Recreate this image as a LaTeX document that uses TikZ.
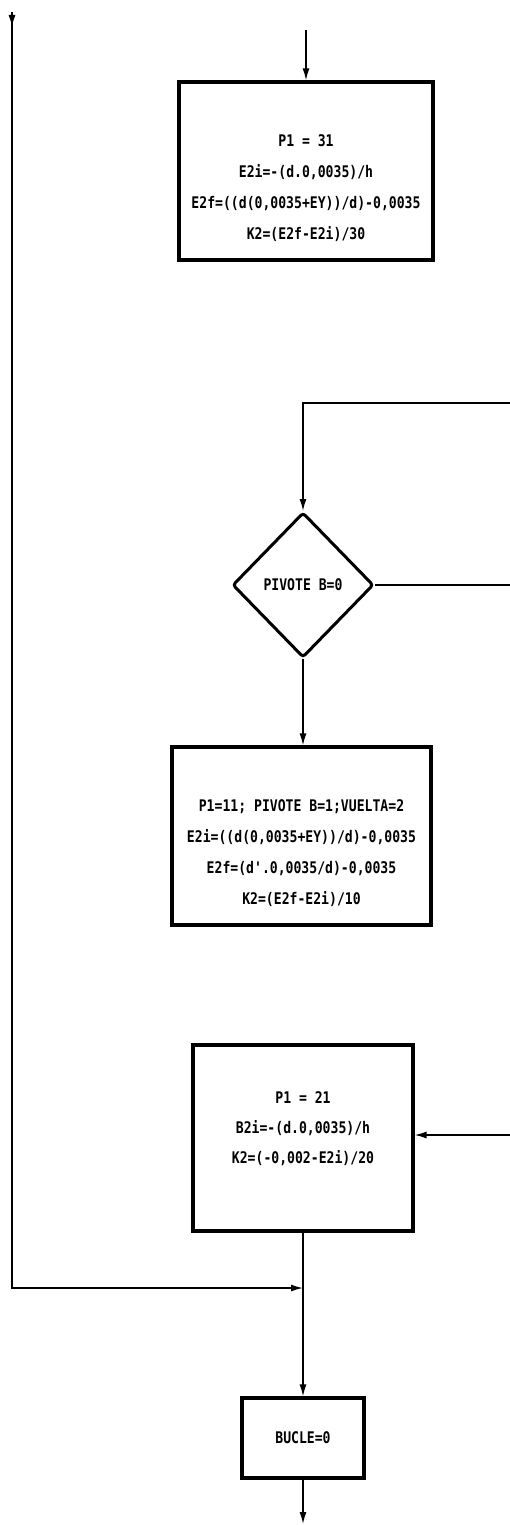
\documentclass[tikz,border=0pt]{standalone}
\usepackage{fontspec}
\newfontfamily\dotfont[FakeStretch=0.82]{DejaVu Sans Mono}
\usetikzlibrary{shapes.geometric,arrows.meta}
\begin{document}
\begin{tikzpicture}[x=1pt,y=-1pt,
  boxnode/.style={draw,line width=3.2pt,rectangle,inner sep=0pt},
  dianode/.style={draw,line width=3pt,diamond,inner sep=0pt,rounded corners=3pt,minimum width=141pt,minimum height=145pt,font={\dotfont\bfseries\fontsize{16}{31}\selectfont}},
  txt/.style={align=center,inner sep=0pt,font={\dotfont\bfseries\fontsize{16}{31}\selectfont}},
  conn/.style={line width=1.5pt},
  arr/.style={conn,-{Latex[length=12pt,width=7pt]}}]
\useasboundingbox (0,0) rectangle (510,1525);
% boxes
\node[boxnode,minimum width=254pt,minimum height=178pt] (b1) at (306,171) {};
\node[txt] (t1) at (306,188) {P1 = 31\\E2i=-(d.0,0035)/h\\E2f=((d(0,0035+EY))/d)-0,0035\\K2=(E2f-E2i)/30};
\node[dianode] (d) at (303,585) {PIVOTE B=0};
\node[boxnode,minimum width=259pt,minimum height=178pt] (b3) at (301.5,836) {};
\node[txt] (t3) at (301.5,853) {P1=11; PIVOTE B=1;VUELTA=2\\E2i=((d(0,0035+EY))/d)-0,0035\\E2f=(d'.0,0035/d)-0,0035\\K2=(E2f-E2i)/10};
\node[boxnode,minimum width=220pt,minimum height=186pt] (b4) at (303,1138) {};
\node[txt,font={\dotfont\bfseries\fontsize{16}{30}\selectfont}] (t4) at (303,1129) {P1 = 21\\B2i=-(d.0,0035)/h\\K2=(-0,002-E2i)/20};
\node[boxnode,minimum width=122pt,minimum height=80pt,font={\dotfont\bfseries\fontsize{16}{31}\selectfont}] (b5) at (303,1438) {BUCLE=0};
% free ends
\coordinate (top) at (306,30);
\coordinate (rtop) at (512,403);
\coordinate (rmid) at (512,585);
\coordinate (rb4) at (512,1135);
\coordinate (ltop) at (12,12);
\coordinate (ltopa) at (12,27);
\coordinate (j) at (303,1288);
\coordinate (bot) at (303,1524);
% connectors
\draw[arr] (top) -- (b1.north);
\draw[arr] (rtop) -| (d.north);
\draw[conn] (d.east) -- (rmid);
\draw[arr] (d.south) -- (d.south |- b3.north);
\draw[arr] (rb4) -- (b4.east |- rb4);
\draw[arr] (b4.south) -- (b5.north);
\draw[arr] (ltop) -- (ltopa);
\draw[arr] (ltop) |- (j);
\draw[arr] (b5.south) -- (bot);
\end{tikzpicture}
\end{document}
